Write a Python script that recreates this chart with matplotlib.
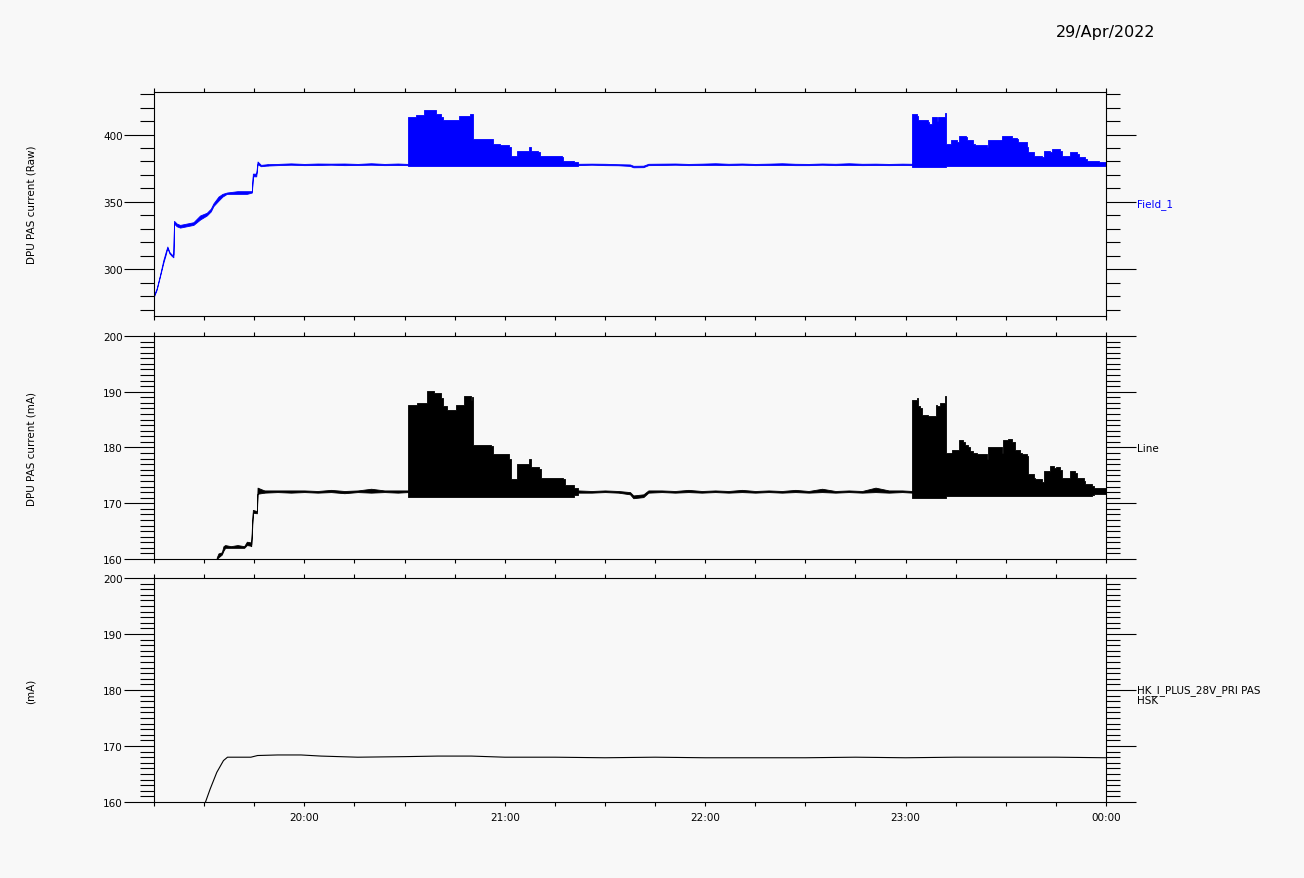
import matplotlib
matplotlib.use("Agg")
import matplotlib.pyplot as plt
from matplotlib.ticker import MultipleLocator, FuncFormatter

# times are minutes after 19:00 on 29/Apr/2022; each row is (time, low, high)
raw_ramp = [(15.0, 280, 281), (15.8, 285, 286), (16.8, 295, 296), (17.8, 305, 307), (18.5, 311, 313),
            (19.0, 316, 317), (19.6, 312, 313), (20.3, 310, 311), (20.8, 309, 311), (21.0, 334, 336),
            (21.8, 332, 334), (22.8, 331, 333), (24.8, 332, 334), (26.8, 333, 335), (28.8, 337, 340),
            (30.8, 340, 342), (32.0, 343, 345), (32.8, 347, 349), (34.3, 351, 354), (35.5, 354, 356),
            (36.8, 356, 357), (40.0, 356, 358), (42.8, 356, 358), (44.3, 357, 358), (44.6, 369, 371),
            (45.6, 369, 371), (46.0, 378, 380), (47.0, 376.5, 377.5), (49.0, 377, 378)]
raw_quiet1 = [(49.0, 377, 378), (52, 377.3, 378.2), (56, 377.6, 378.6), (60, 377.3, 378.2), (64, 377.4, 378.5),
              (68, 377.6, 378.4), (72, 377.3, 378.5), (76, 377.4, 378.2), (80, 377.6, 378.7), (84, 377.3, 378.2),
              (88, 377.4, 378.5), (91.0, 377.3, 378.2)]
raw_burst1 = [(91.0, 376.5, 413), (93.0, 376.5, 413), (93.5, 376.5, 414.6), (95.3, 376.5, 414.6),
              (95.8, 376.5, 418), (98.8, 376.5, 418), (99.5, 376.5, 415), (100.8, 376.5, 413),
              (101.5, 376.5, 410.4), (105.8, 376.5, 410.4), (106.3, 376.5, 414), (109.3, 376.5, 414),
              (109.6, 376.5, 415.3), (110.3, 376.5, 415.3), (110.6, 376.5, 396.8), (115.8, 376.5, 396.8),
              (116.5, 376.5, 393), (118.5, 376.5, 392), (121.3, 376.5, 390.7), (121.8, 376.5, 384.4),
              (123.3, 376.5, 384.4), (123.8, 376.5, 388), (127.0, 376.5, 388), (127.3, 376.5, 390.7),
              (128.0, 376.5, 388), (130.0, 376.5, 387), (130.5, 376.5, 384.4), (137.0, 376.5, 383.2),
              (137.5, 376.5, 380.7), (140.8, 377, 379.5), (142.0, 377.3, 378.3)]
raw_quiet2 = [(142, 377.3, 378.3), (146, 377.6, 378.4), (150, 377.3, 378.3), (154, 377.2, 378), (157.5, 376.7, 377.8),
              (158.5, 375.7, 376.8), (161.5, 375.8, 376.9), (163, 377.3, 378.3), (167, 377.4, 378.4),
              (171, 377.6, 378.5), (175, 377.3, 378.2), (179, 377.4, 378.4), (183, 377.5, 378.7), (187, 377.3, 378.3),
              (191, 377.6, 378.5), (195, 377.3, 378.2), (199, 377.4, 378.4), (203, 377.5, 378.7), (207, 377.3, 378.3),
              (211, 377.3, 378.2), (215, 377.6, 378.5), (219, 377.3, 378.3), (223, 377.5, 378.7), (227, 377.3, 378.3),
              (231, 377.4, 378.4), (235, 377.3, 378.2), (239, 377.4, 378.4), (242.0, 377.3, 378.3)]
raw_burst2 = [(242.0, 376, 415), (243.3, 376, 414), (243.8, 376, 411), (244.8, 376, 410.4), (246.8, 376, 409.2),
              (247.0, 376, 408), (247.8, 376, 408), (248.0, 376, 413), (249.3, 376, 410), (249.8, 376, 413),
              (251.6, 376, 413), (251.8, 376, 416), (252.1, 376.5, 393), (253.3, 376.5, 393),
              (253.6, 376.5, 395.6), (255.3, 376.5, 394.4), (256.0, 376.5, 398.8), (258.0, 376.5, 398.1),
              (258.3, 376.5, 395.6), (260.3, 376.5, 393), (260.8, 376.5, 392), (264.3, 376.5, 390.7),
              (264.8, 376.5, 395.6), (268.8, 376.5, 393), (269.0, 376.5, 399), (272.0, 376.5, 397.5),
              (273.3, 376.5, 396.8), (273.8, 376.5, 394.6), (276.3, 376.5, 391), (276.6, 376.5, 387),
              (278.3, 376.5, 384.4), (278.8, 376.5, 384.4), (280.8, 376.5, 383.2), (281.3, 376.5, 388),
              (283.3, 376.5, 387), (283.8, 376.5, 389.4), (286.3, 376.5, 388.1), (286.8, 376.5, 384.4),
              (288.8, 376.5, 384.4), (289.3, 376.5, 387), (291.3, 376.5, 385.7), (291.8, 376.5, 383.2),
              (293.8, 376.5, 382), (294.3, 377, 380.7), (296.0, 377, 380), (298.0, 377, 379.5),
              (300.5, 377, 379)]

ma_ramp = [(33.5, 159.0, 159.0), (33.8, 160.0, 160.3), (34.3, 160.3, 161.0), (35.3, 160.8, 161.2),
           (35.8, 161.5, 162.3), (36.3, 162.0, 162.5), (38, 162.0, 162.3), (40, 162.0, 162.5),
           (42, 162.0, 162.3), (42.8, 162.5, 163.1), (43.8, 162.4, 163.0), (44.1, 162.3, 162.6),
           (44.3, 164.5, 165.5), (44.6, 168.3, 168.8), (45.8, 168.2, 168.6), (46.0, 171.7, 172.8),
           (48, 171.9, 172.3)]
ma_quiet1 = [(48, 171.9, 172.3), (52, 172.0, 172.3), (56, 171.9, 172.3), (60, 172.0, 172.3), (64, 171.9, 172.2),
             (68, 172.0, 172.4), (72, 171.8, 172.2), (76, 172.0, 172.3), (80, 171.9, 172.6), (84, 172.0, 172.3),
             (88, 171.9, 172.3), (91.0, 172.0, 172.3)]
ma_burst1 = [(91.0, 171.2, 187.7), (92.8, 171.2, 187.7), (93.8, 171.2, 188.0), (95.3, 171.2, 188.0),
             (96.8, 171.2, 190.1), (98.3, 171.2, 190.1), (98.8, 171.2, 189.8), (100.8, 171.2, 188.9),
             (101.5, 171.2, 187.5), (102.8, 171.2, 186.8), (104.3, 171.2, 186.8), (105.3, 171.2, 187.7),
             (107.3, 171.2, 187.7), (107.8, 171.2, 189.2), (110.0, 171.2, 188.6), (110.3, 171.2, 189.0),
             (110.6, 171.2, 180.5), (115.8, 171.2, 180.2), (116.5, 171.2, 178.8), (121.3, 171.2, 177.9),
             (121.8, 171.2, 174.3), (123.3, 171.2, 174.3), (123.8, 171.2, 177.0), (127.3, 171.2, 177.9),
             (128.0, 171.2, 176.5), (130.3, 171.2, 176.1), (130.8, 171.2, 174.6), (137.3, 171.2, 174.3),
             (138.0, 171.2, 173.3), (140.8, 171.5, 172.8), (142.0, 171.9, 172.3)]
ma_quiet2 = [(142, 171.9, 172.3), (146, 171.9, 172.2), (150, 172.0, 172.3), (154, 171.9, 172.2),
             (157.5, 171.6, 172.0), (158.5, 170.9, 171.4), (161.5, 171.1, 171.6), (163, 171.9, 172.3),
             (167, 172.0, 172.3), (171, 171.9, 172.2), (175, 172.0, 172.4), (179, 171.9, 172.2),
             (183, 172.0, 172.3), (187, 171.9, 172.2), (191, 172.0, 172.4), (195, 171.9, 172.2),
             (199, 172.0, 172.3), (203, 171.9, 172.2), (207, 172.0, 172.4), (211, 171.9, 172.2),
             (215, 172.0, 172.6), (219, 171.9, 172.2), (223, 172.0, 172.3), (227, 171.9, 172.2),
             (231, 172.0, 172.8), (235, 171.9, 172.3), (239, 172.0, 172.3), (242.0, 171.9, 172.2)]
ma_burst2 = [(242.0, 171.0, 188.6), (243.3, 171.0, 188.9), (243.8, 171.0, 187.5), (244.3, 171.0, 187.0),
             (245.0, 171.0, 185.9), (246.8, 171.0, 185.7), (248.8, 171.0, 185.6), (249.0, 171.0, 187.7),
             (249.3, 171.0, 187.4), (250.3, 171.0, 187.9), (251.6, 171.0, 187.9), (251.8, 171.0, 189.3),
             (252.0, 171.3, 179.0), (253.8, 171.3, 178.8), (254.0, 171.3, 179.6), (255.3, 171.3, 179.6),
             (256.0, 171.3, 181.4), (257.3, 171.3, 180.9), (257.8, 171.3, 180.5), (258.8, 171.3, 180.0),
             (259.3, 171.3, 179.3), (260.3, 171.3, 179.1), (261.3, 171.3, 178.8), (264.3, 171.3, 177.9),
             (264.8, 171.3, 180.0), (268.8, 171.3, 179.0), (269.3, 171.3, 181.4), (270.8, 171.3, 181.6),
             (271.8, 171.3, 180.9), (272.8, 171.3, 179.6), (274.3, 171.3, 179.1), (274.8, 171.3, 178.8),
             (276.3, 171.3, 178.4), (276.6, 171.3, 175.2), (278.3, 171.3, 174.6), (278.8, 171.3, 174.3),
             (280.8, 171.3, 173.8), (281.3, 171.3, 175.8), (282.8, 171.3, 175.8), (283.3, 171.3, 176.7),
             (284.3, 171.3, 176.4), (285.0, 171.3, 176.5), (286.3, 171.3, 176.0), (286.8, 171.3, 174.6),
             (288.8, 171.3, 174.6), (289.3, 171.3, 175.8), (290.8, 171.3, 175.5), (291.3, 171.3, 174.6),
             (293.3, 171.3, 174.0), (293.8, 171.3, 173.4), (295.8, 171.4, 173.1), (296.3, 171.6, 172.8),
             (300.5, 171.8, 172.3)]

hsk_t = [30.3, 31.8, 33.8, 35.8, 37.0, 44, 46, 52, 59, 65, 76, 90, 100, 110, 120, 135, 150, 165,
         180, 195, 210, 225, 240, 255, 270, 285, 300.5]
hsk_v = [159.8, 162.3, 165.3, 167.4, 168.0, 168.0, 168.3, 168.4, 168.4, 168.2, 168.0, 168.1, 168.2,
         168.2, 168.0, 168.0, 167.9, 168.0, 167.9, 167.9, 167.9, 168.0, 167.9, 168.0, 168.0, 168.0, 167.9]

bg = "#f8f8f8"
plt.rcParams["font.family"] = "DejaVu Sans"
fig = plt.figure(figsize=(13.04, 8.79), dpi=100, facecolor=bg)


def hhmm(m, pos):
    return "%02d:%02d" % ((19 + int(m) // 60) % 24, int(m) % 60)


def make_axes(top, bottom):
    ax = fig.add_axes([154/1304, 1 - bottom/879, 952/1304, (bottom - top)/879])
    ax.set_facecolor(bg)
    ax.set_xlim(15, 300)
    ax.xaxis.set_major_locator(MultipleLocator(60))
    ax.xaxis.set_minor_locator(MultipleLocator(15))
    ax.xaxis.set_major_formatter(FuncFormatter(hhmm))
    ax.tick_params(axis="x", which="both", direction="out", length=3, width=0.8,
                   top=True, bottom=True, labelbottom=False, labelsize=7.5, pad=4)
    ax.tick_params(axis="y", which="major", direction="out", length=21.5, width=0.8,
                   left=True, right=True, labelsize=7.5, pad=1)
    ax.tick_params(axis="y", which="minor", direction="out", length=10, width=0.8,
                   left=True, right=True)
    for s in ax.spines.values():
        s.set_linewidth(0.8)
    return ax


def draw(ax, seg, c, step=None):
    t = [r[0] for r in seg]
    lo = [r[1] for r in seg]
    hi = [r[2] for r in seg]
    ax.fill_between(t, lo, hi, color=c, lw=0.6, step=step)


ax1 = make_axes(93, 317)
draw(ax1, raw_ramp, "#0000ff")
draw(ax1, raw_quiet1, "#0000ff")
draw(ax1, raw_burst1, "#0000ff", "post")
draw(ax1, raw_quiet2, "#0000ff")
draw(ax1, raw_burst2, "#0000ff", "post")
ax1.set_ylim(265.5, 431.5)
ax1.yaxis.set_major_locator(MultipleLocator(50))
ax1.yaxis.set_minor_locator(MultipleLocator(10))
ax1.text(1.0326, 0.5, "Field_1", transform=ax1.transAxes, ha="left", va="center",
         fontsize=7.5, color="#0000ff")

ax2 = make_axes(337, 560)
draw(ax2, ma_ramp, "black")
draw(ax2, ma_quiet1, "black")
draw(ax2, ma_burst1, "black", "post")
draw(ax2, ma_quiet2, "black")
draw(ax2, ma_burst2, "black", "post")
ax2.set_ylim(160, 200)
ax2.yaxis.set_major_locator(MultipleLocator(10))
ax2.yaxis.set_minor_locator(MultipleLocator(1))
ax2.text(1.0326, 0.5, "Line", transform=ax2.transAxes, ha="left", va="center", fontsize=7.5)

ax3 = make_axes(579, 803)
ax3.plot(hsk_t, hsk_v, color="black", lw=0.8)
ax3.set_ylim(160, 200)
ax3.yaxis.set_major_locator(MultipleLocator(10))
ax3.yaxis.set_minor_locator(MultipleLocator(1))
ax3.tick_params(axis="x", labelbottom=True)
ax3.text(1.0326, 0.525, "HK_I_PLUS_28V_PRI PAS\nHSK", transform=ax3.transAxes, ha="left",
         va="top", fontsize=7.5, linespacing=0.95)

fig.text(31/1304, 1 - 205/879, "DPU PAS current (Raw)", rotation=90, ha="center", va="center", fontsize=7.5)
fig.text(31/1304, 1 - 449/879, "DPU PAS current (mA)", rotation=90, ha="center", va="center", fontsize=7.5)
fig.text(31/1304, 1 - 691/879, "(mA)", rotation=90, ha="center", va="center", fontsize=7.5)
fig.text(1106/1304, 1 - 32/879, "29/Apr/2022", ha="center", va="center", fontsize=11.5)

fig.savefig("out.png", dpi=100, facecolor=bg)
